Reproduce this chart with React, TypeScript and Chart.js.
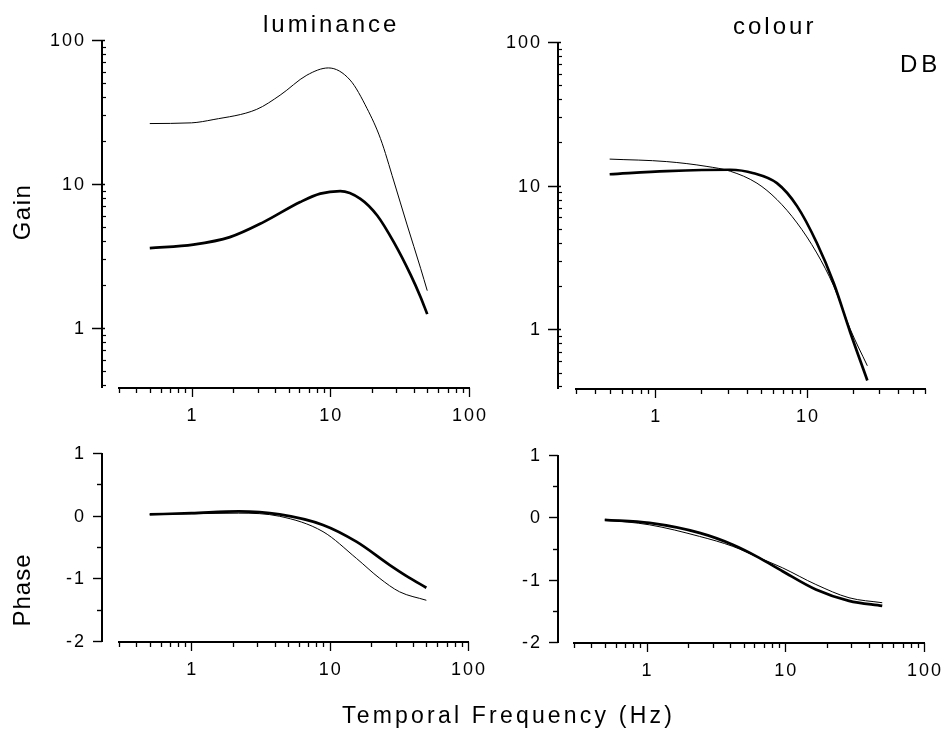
import React, { useEffect, useRef } from "react";
import { Chart, registerables } from "chart.js";

Chart.register(...registerables);

const FONT = '"Liberation Sans", Arial, Helvetica, sans-serif';

// ---- tick labels ----
const freqTicks = [1, 10, 100];
const gainTicks = [1, 10, 100];
const phaseTicks = [-2, -1, 0, 1];

// ---- luminance gain ----
const lumGainThinFreq = [0.5, 1, 1.43, 2.95, 4.35, 6.78, 9.7, 13.9, 18.4, 23, 28.7, 35.8, 44.8, 50];
const lumGainThin = [26.3, 26.6, 28, 33, 41.4, 57, 64, 52.7, 33.5, 20.7, 10.5, 5.2, 2.6, 1.82];
const lumGainThickFreq = [0.5, 1.03, 1.89, 3.3, 6.07, 8.47, 11.8, 16.5, 21.8, 28.7, 37.9, 44.8, 50];
const lumGainThick = [3.59, 3.8, 4.28, 5.44, 7.5, 8.58, 8.94, 7.9, 6.05, 3.95, 2.35, 1.64, 1.25];

// ---- colour gain ----
const colGainThinFreq = [0.5, 1.19, 2.19, 3.12, 4.68, 6.34, 8.6, 11.6, 15, 19.3, 25];
const colGainThin = [15.3, 14.7, 13.6, 12.6, 10.4, 8.0, 5.5, 3.4, 2.0, 1.0, 0.557];
const colGainThickFreq = [0.5, 1.19, 3.12, 4.45, 6.34, 8.6, 11.6, 15, 19.3, 25];
const colGainThick = [12.0, 12.6, 12.9, 12.2, 10.4, 7.2, 4.0, 2.1, 0.95, 0.44];

// ---- luminance phase ----
const lumPhaseThinFreq = [0.5, 1, 2.2, 4.35, 8.95, 15.6, 23, 32, 50];
const lumPhaseThin = [0.02, 0.03, 0.04, -0.01, -0.255, -0.681, -1.0, -1.215, -1.35];
const lumPhaseThickFreq = [0.5, 1, 2.2, 4.35, 8.95, 15.6, 27.2, 36, 50];
const lumPhaseThick = [0.02, 0.04, 0.07, 0.02, -0.148, -0.415, -0.788, -0.964, -1.15];

// ---- colour phase ----
const colPhaseThinFreq = [0.5, 1.05, 2.41, 4.19, 6.5, 9.56, 16.6, 28.8, 50];
const colPhaseThin = [-0.04, -0.12, -0.306, -0.466, -0.65, -0.81, -1.077, -1.29, -1.37];
const colPhaseThickFreq = [0.5, 1.05, 2.41, 4.19, 6.5, 9.56, 16.6, 28.8, 50];
const colPhaseThick = [-0.04, -0.09, -0.25, -0.44, -0.65, -0.865, -1.158, -1.34, -1.42];

const W = 946;
const H = 732;

type TextItem = {
  text: string;
  x: number;
  y: number;
  size: number;
  ls: number;
  align?: CanvasTextAlign;
  baseline?: CanvasTextBaseline;
  rotate?: boolean;
};

const zip = (xs: number[], ys: number[]) => xs.map((x, i) => ({ x, y: ys[i] }));

const figurePlugin = {
  id: "figure",
  afterDraw(chart: any, _args: any, opts: any) {
    const ctx: CanvasRenderingContext2D = chart.ctx;
    const area = chart.chartArea;
    const xs = chart.scales.x;
    const ys = chart.scales.y;
    const axX = area.left - opts.gap;
    const axY = area.bottom + 1;
    ctx.save();
    ctx.strokeStyle = "#000";
    ctx.fillStyle = "#000";
    ctx.lineCap = "butt";

    const seg = (x1: number, y1: number, x2: number, y2: number, w: number) => {
      ctx.lineWidth = w;
      ctx.beginPath();
      ctx.moveTo(x1, y1);
      ctx.lineTo(x2, y2);
      ctx.stroke();
    };

    // axis lines
    seg(axX, area.top, axX, area.bottom + 1, 2);
    seg(area.left - 1, axY, area.right + 1, axY, 2);

    // x ticks (log)
    const xmin = xs.min;
    const xmax = xs.max;
    for (let e = Math.floor(Math.log10(xmin)); e <= Math.ceil(Math.log10(xmax)); e++) {
      for (let m = 1; m <= 9; m++) {
        const v = m * Math.pow(10, e);
        if (v < xmin * 0.999 || v > xmax * 1.001) continue;
        const px = Math.round(xs.getPixelForValue(v)) + 0.5;
        seg(px, axY, px, axY + (m === 1 ? 9 : 5), 1.3);
      }
    }

    // y ticks
    if (opts.yLog) {
      const ymin = ys.min;
      const ymax = ys.max;
      for (let e = Math.floor(Math.log10(ymin)); e <= Math.ceil(Math.log10(ymax)); e++) {
        for (let m = 1; m <= 9; m++) {
          const v = m * Math.pow(10, e);
          if (v < ymin * 0.999 || v > ymax * 1.001) continue;
          const py = Math.round(ys.getPixelForValue(v)) + 0.5;
          if (m === 1) seg(axX - 10, py, axX + 3, py, 1.5);
          else seg(axX, py, axX + 4, py, 1.2);
        }
      }
    } else {
      for (let v = ys.min; v <= ys.max + 1e-9; v += 0.5) {
        const py = Math.round(ys.getPixelForValue(v)) + 0.5;
        const major = Math.abs(v - Math.round(v)) < 1e-9;
        seg(axX - (major ? 9 : 5), py, axX, py, 1.4);
      }
    }

    // tick labels
    (ctx as any).letterSpacing = "2px";
    ctx.font = `18px ${FONT}`;
    ctx.textAlign = "right";
    ctx.textBaseline = "middle";
    for (const v of opts.yTicks as number[]) {
      if (v < ys.min - 1e-9 || v > ys.max + 1e-9) continue;
      ctx.fillText(String(v), axX - 16, ys.getPixelForValue(v) + 1);
    }
    ctx.textAlign = "center";
    for (const v of freqTicks) {
      if (v < xmin * 0.999 || v > xmax * 1.001) continue;
      ctx.fillText(String(v), xs.getPixelForValue(v) + 1, axY + 28);
    }

    // extra texts
    for (const t of (opts.texts || []) as TextItem[]) {
      ctx.save();
      (ctx as any).letterSpacing = `${t.ls}px`;
      ctx.font = `${t.size}px ${FONT}`;
      ctx.textAlign = t.align || "left";
      ctx.textBaseline = t.baseline || "alphabetic";
      if (t.rotate) {
        ctx.translate(t.x, t.y);
        ctx.rotate(-Math.PI / 2);
        ctx.fillText(t.text, 0, 0);
      } else {
        ctx.fillText(t.text, t.x, t.y);
      }
      ctx.restore();
    }
    ctx.restore();
  },
};

type PanelCfg = {
  thin: { x: number; y: number }[];
  thick: { x: number; y: number }[];
  pad: { left: number; top: number; right: number; bottom: number };
  xMax: number;
  yLog: boolean;
  yMin: number;
  yMax: number;
  yTicks: number[];
  gap: number;
  texts: TextItem[];
};

function makeChart(canvas: HTMLCanvasElement, p: PanelCfg) {
  return new Chart(canvas, {
    type: "line",
    data: {
      datasets: [
        {
          data: p.thin,
          borderColor: "#000",
          borderWidth: 1,
          pointRadius: 0,
          fill: false,
          cubicInterpolationMode: "monotone",
        },
        {
          data: p.thick,
          borderColor: "#000",
          borderWidth: 2.7,
          pointRadius: 0,
          fill: false,
          cubicInterpolationMode: "monotone",
        },
      ],
    },
    options: {
      animation: false,
      responsive: false,
      devicePixelRatio: 1,
      events: [],
      layout: { padding: p.pad },
      plugins: {
        legend: { display: false },
        tooltip: { enabled: false },
        title: { display: false },
        figure: { gap: p.gap, yLog: p.yLog, yTicks: p.yTicks, texts: p.texts },
      } as any,
      scales: {
        x: { type: "logarithmic", min: 0.3, max: p.xMax, display: false },
        y: p.yLog
          ? { type: "logarithmic", min: p.yMin, max: p.yMax, display: false }
          : { type: "linear", min: p.yMin, max: p.yMax, display: false },
      },
    },
    plugins: [figurePlugin],
  } as any);
}

export default function App() {
  const r1 = useRef<HTMLCanvasElement>(null);
  const r2 = useRef<HTMLCanvasElement>(null);
  const r3 = useRef<HTMLCanvasElement>(null);
  const r4 = useRef<HTMLCanvasElement>(null);

  useEffect(() => {
    const charts: Chart[] = [];
    charts.push(
      makeChart(r1.current!, {
        thin: zip(lumGainThinFreq, lumGainThin),
        thick: zip(lumGainThickFreq, lumGainThick),
        pad: { left: 119, top: 40, right: W - 469, bottom: H - 387 },
        xMax: 100,
        yLog: true,
        yMin: 0.39,
        yMax: 100,
        yTicks: gainTicks,
        gap: 17,
        texts: [
          { text: "luminance", x: 263, y: 32, size: 24, ls: 3 },
          { text: "Gain", x: 23, y: 212, size: 24, ls: 1.5, align: "center", baseline: "middle", rotate: true },
        ],
      })
    );
    charts.push(
      makeChart(r2.current!, {
        thin: zip(colGainThinFreq, colGainThin),
        thick: zip(colGainThickFreq, colGainThick),
        pad: { left: 576, top: 42, right: W - 925, bottom: H - 388 },
        xMax: 60,
        yLog: true,
        yMin: 0.39,
        yMax: 100,
        yTicks: gainTicks,
        gap: 18,
        texts: [
          { text: "colour", x: 733, y: 34, size: 24, ls: 3 },
          { text: "DB", x: 900, y: 72, size: 24, ls: 4 },
        ],
      })
    );
    charts.push(
      makeChart(r3.current!, {
        thin: zip(lumPhaseThinFreq, lumPhaseThin),
        thick: zip(lumPhaseThickFreq, lumPhaseThick),
        pad: { left: 119, top: 453, right: W - 468, bottom: H - 641 },
        xMax: 100,
        yLog: false,
        yMin: -2,
        yMax: 1,
        yTicks: phaseTicks,
        gap: 17,
        texts: [
          { text: "Phase", x: 23, y: 590, size: 24, ls: 1, align: "center", baseline: "middle", rotate: true },
          { text: "Temporal Frequency (Hz)", x: 342, y: 723, size: 23, ls: 3.2 },
        ],
      })
    );
    charts.push(
      makeChart(r4.current!, {
        thin: zip(colPhaseThinFreq, colPhaseThin),
        thick: zip(colPhaseThickFreq, colPhaseThick),
        pad: { left: 574, top: 455, right: W - 924, bottom: H - 642 },
        xMax: 100,
        yLog: false,
        yMin: -2,
        yMax: 1,
        yTicks: phaseTicks,
        gap: 16,
        texts: [],
      })
    );
    return () => charts.forEach((c) => c.destroy());
  }, []);

  const cs: React.CSSProperties = { position: "absolute", left: 0, top: 0, width: W, height: H };
  return (
    <div style={{ position: "fixed", left: 0, top: 0, width: W, height: H, background: "#fff", overflow: "hidden" }}>
      <canvas ref={r1} width={W} height={H} style={cs} />
      <canvas ref={r2} width={W} height={H} style={cs} />
      <canvas ref={r3} width={W} height={H} style={cs} />
      <canvas ref={r4} width={W} height={H} style={cs} />
    </div>
  );
}
